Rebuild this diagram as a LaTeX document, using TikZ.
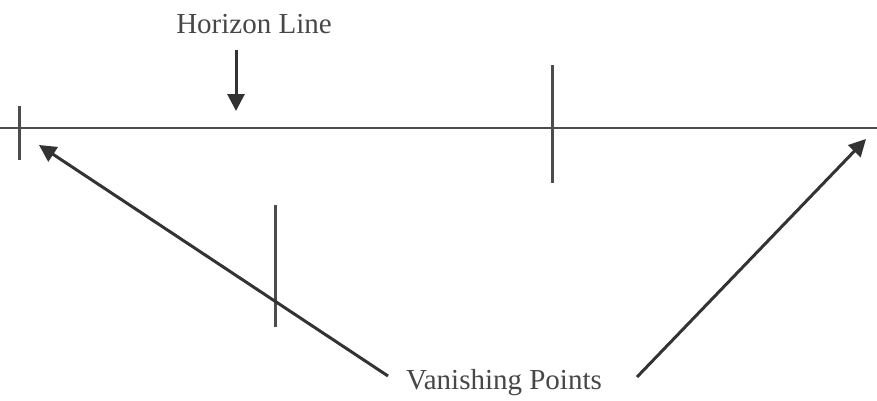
\documentclass[tikz,border=0pt]{standalone}
\usepackage{fontspec}
\setmainfont{Liberation Serif}
\usetikzlibrary{arrows.meta}
\begin{document}
\begin{tikzpicture}[x=1pt,y=-1pt,
  lbl/.style={font=\fontsize{29}{32}\selectfont, text=black!72, inner sep=0pt},
  tick/.style={draw=black!70, line width=3pt},
  hline/.style={draw=black!70, line width=2pt},
  arr/.style={draw=black!80, line width=3pt, -{Triangle[length=17pt,width=17pt]}}]
\useasboundingbox (0,0) rectangle (877,400);
% horizon line
\coordinate (hl) at (0,128);
\coordinate (hr) at (877,128);
\draw[hline] (hl) -- (hr);
% ticks
\coordinate (t1a) at (19,106); \coordinate (t1b) at (19,160);
\coordinate (t2a) at (552,65);  \coordinate (t2b) at (552,183);
\coordinate (t3a) at (275,205); \coordinate (t3b) at (275,327);
\draw[tick] (t1a) -- (t1b);
\draw[tick] (t2a) -- (t2b);
\draw[tick] (t3a) -- (t3b);
% labels
\node[lbl] (hz) at (254,24) {Horizon Line};
\node[lbl] (vp) at (504,383) {Vanishing Points};
% arrows
\coordinate (ha) at (236,50); \coordinate (hb) at (236,111);
\draw[arr] (ha) -- (hb);
\coordinate (la) at (388,376); \coordinate (lb) at (39,145);
\draw[arr] (la) -- (lb);
\coordinate (ra) at (637,377); \coordinate (rb) at (866,139);
\draw[arr] (ra) -- (rb);
\end{tikzpicture}
\end{document}
